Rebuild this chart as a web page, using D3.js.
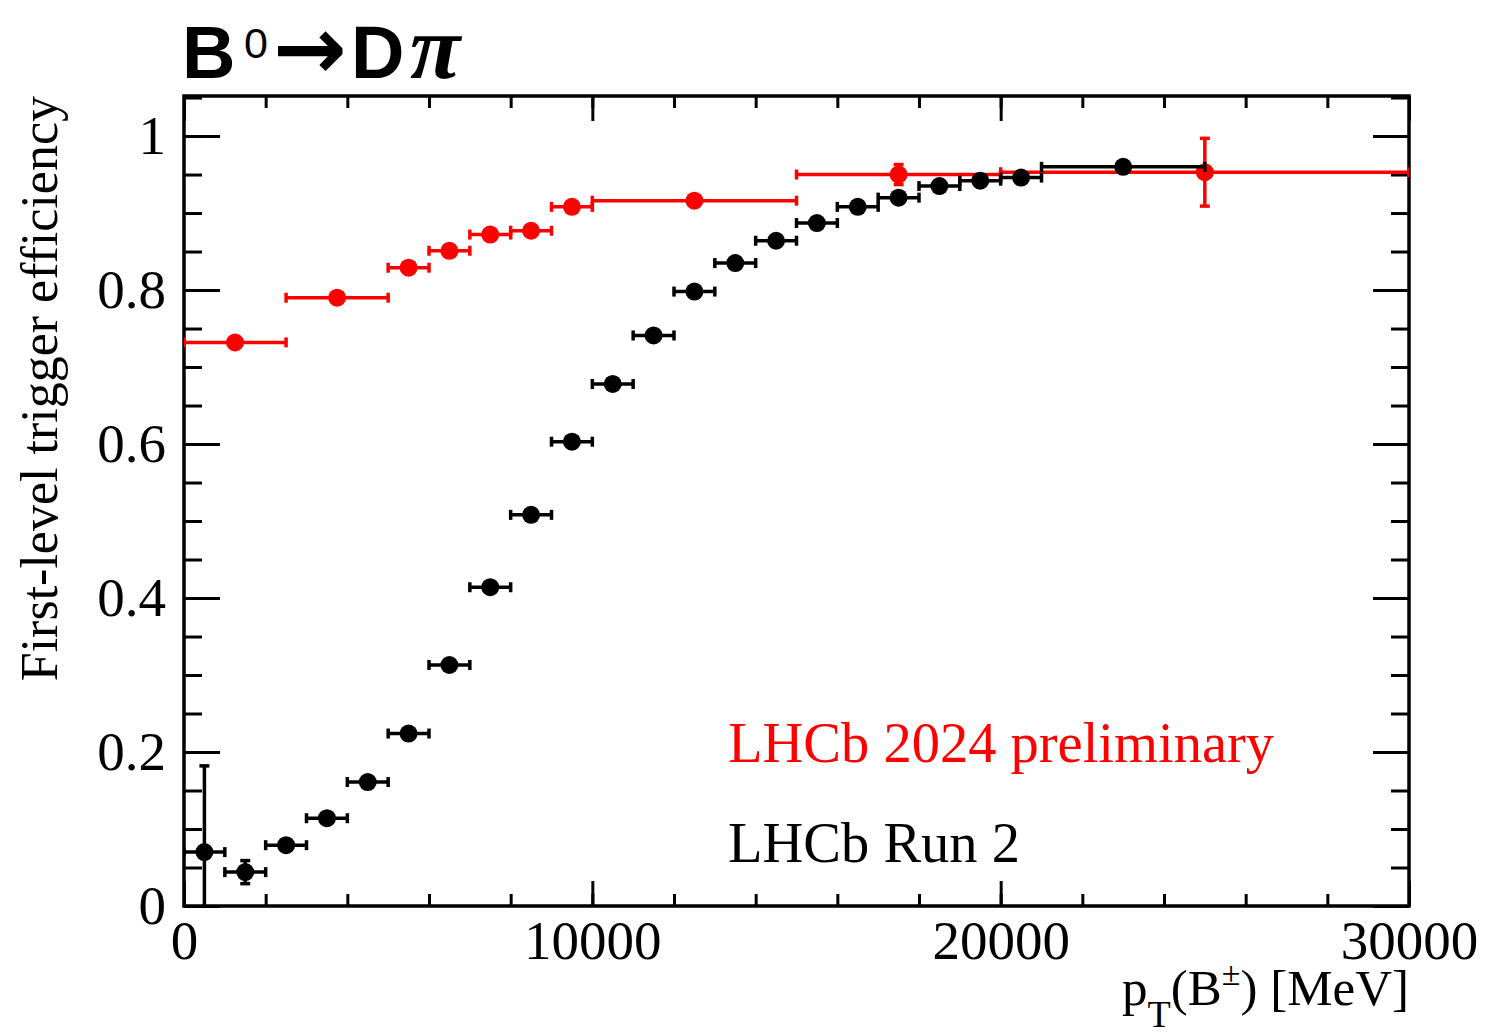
<!DOCTYPE html>
<html>
<head>
<meta charset="utf-8">
<script src="https://cdn.jsdelivr.net/npm/d3@7"></script>
<style>
  body { margin: 0; background: #fff; }
</style>
</head>
<body>
<div id="chart"></div>
<script>
// data
var blackX    = [500, 1500, 2500, 3500, 4500, 5500, 6500, 7500, 8500, 9500, 10500, 11500, 12500, 13500, 14500, 15500, 16500, 17500, 18500, 19500, 20500, 23000];
var blackXerr = [500, 500, 500, 500, 500, 500, 500, 500, 500, 500, 500, 500, 500, 500, 500, 500, 500, 500, 500, 500, 500, 2000];
var blackEff  = [0.070, 0.044, 0.079, 0.114, 0.161, 0.224, 0.313, 0.414, 0.508, 0.603, 0.678, 0.741, 0.798, 0.835, 0.864, 0.887, 0.908, 0.920, 0.935, 0.942, 0.946, 0.960];
var blackYerr = [0.112, 0.015, 0.006, 0.006, 0.006, 0.006, 0.006, 0.006, 0.006, 0.005, 0.005, 0.005, 0.005, 0.005, 0.005, 0.004, 0.004, 0.004, 0.004, 0.004, 0.004, 0.003];

var redX    = [1250, 3750, 5500, 6500, 7500, 8500, 9500, 12500, 17500, 25000];
var redXerr = [1250, 1250, 500, 500, 500, 500, 500, 2500, 2500, 5000];
var redEff  = [0.732, 0.790, 0.829, 0.851, 0.872, 0.877, 0.908, 0.916, 0.950, 0.953];
var redYerr = [0.004, 0.004, 0.004, 0.004, 0.005, 0.005, 0.005, 0.005, 0.013, 0.044];

var xMajor = [0, 10000, 20000, 30000];
var xMinor = d3.range(0, 30001, 2000);
var yMajor = [0, 0.2, 0.4, 0.6, 0.8, 1];
var yMinor = d3.range(0, 1.051, 0.05);

var svgWidth = 1486;
var svgHeight = 1035;

var margin = { top: 96, right: 77, bottom: 129, left: 184 };
var chartWidth  = svgWidth - margin.left - margin.right;
var chartHeight = svgHeight - margin.top - margin.bottom;

var serif = "Liberation Serif, Times New Roman, serif";

var svg = d3.select("#chart")
    .append("svg")
    .attr("width", svgWidth)
    .attr("height", svgHeight)
    .style("font-family", serif);

var chartGroup = svg.append("g")
    .attr("transform", `translate(${margin.left}, ${margin.top})`);

var xScale = d3.scaleLinear().domain([0, 30000]).range([0, chartWidth]);
var yScale = d3.scaleLinear().domain([0, 1.052]).range([chartHeight, 0]);

var labelSize = 55;

// axes: ROOT style, ticks inside on all four sides
function styleAxis(g) {
    g.select(".domain").remove();
    g.selectAll(".tick line").attr("stroke", "#000").attr("stroke-width", 3);
    g.selectAll(".tick text")
        .style("font-family", serif)
        .style("font-size", labelSize + "px")
        .attr("fill", "#000");
}

chartGroup.append("g")
    .attr("transform", `translate(0, ${chartHeight})`)
    .call(d3.axisBottom(xScale).tickValues(xMinor).tickSize(-12).tickFormat(""))
    .call(styleAxis);
chartGroup.append("g")
    .attr("transform", `translate(0, ${chartHeight})`)
    .call(d3.axisBottom(xScale).tickValues(xMajor).tickSize(-25).tickPadding(14).tickFormat(d3.format("d")))
    .call(styleAxis)
    .selectAll(".tick text").attr("dy", "0.71em");

chartGroup.append("g")
    .call(d3.axisTop(xScale).tickValues(xMinor).tickSize(-12).tickFormat(""))
    .call(styleAxis);
chartGroup.append("g")
    .call(d3.axisTop(xScale).tickValues(xMajor).tickSize(-25).tickFormat(""))
    .call(styleAxis);

chartGroup.append("g")
    .call(d3.axisLeft(yScale).tickValues(yMinor).tickSize(-18).tickFormat(""))
    .call(styleAxis);
chartGroup.append("g")
    .call(d3.axisLeft(yScale).tickValues(yMajor).tickSize(-36).tickPadding(18).tickFormat(d => d === 0 || d === 1 ? d3.format("d")(d) : d3.format(".1f")(d)))
    .call(styleAxis);

chartGroup.append("g")
    .attr("transform", `translate(${chartWidth}, 0)`)
    .call(d3.axisRight(yScale).tickValues(yMinor).tickSize(-18).tickFormat(""))
    .call(styleAxis);
chartGroup.append("g")
    .attr("transform", `translate(${chartWidth}, 0)`)
    .call(d3.axisRight(yScale).tickValues(yMajor).tickSize(-36).tickFormat(""))
    .call(styleAxis);

// frame
chartGroup.append("rect")
    .attr("width", chartWidth)
    .attr("height", chartHeight)
    .attr("fill", "none")
    .attr("stroke", "#000")
    .attr("stroke-width", 3.5);

// clip the points to the frame
svg.append("clipPath").attr("id", "frameClip")
    .append("rect").attr("width", chartWidth).attr("height", chartHeight);

var plotArea = chartGroup.append("g").attr("clip-path", "url(#frameClip)");

function drawSeries(xs, xerr, ys, yerr, color) {
    var data = xs.map((x, i) => ({ x: x, xe: xerr[i], y: ys[i], ye: yerr[i] }));
    var g = plotArea.append("g");
    var cap = 5;
    var lw = 3.5;

    var pts = g.selectAll("g.pt")
        .data(data)
        .enter()
        .append("g")
        .attr("class", "pt");

    // horizontal error + end caps
    pts.append("line")
        .attr("x1", d => xScale(d.x - d.xe))
        .attr("x2", d => xScale(d.x + d.xe))
        .attr("y1", d => yScale(d.y))
        .attr("y2", d => yScale(d.y))
        .attr("stroke", color).attr("stroke-width", lw);
    pts.append("line")
        .attr("x1", d => xScale(d.x - d.xe)).attr("x2", d => xScale(d.x - d.xe))
        .attr("y1", d => yScale(d.y) - cap).attr("y2", d => yScale(d.y) + cap)
        .attr("stroke", color).attr("stroke-width", lw);
    pts.append("line")
        .attr("x1", d => xScale(d.x + d.xe)).attr("x2", d => xScale(d.x + d.xe))
        .attr("y1", d => yScale(d.y) - cap).attr("y2", d => yScale(d.y) + cap)
        .attr("stroke", color).attr("stroke-width", lw);

    // vertical error + end caps
    pts.append("line")
        .attr("x1", d => xScale(d.x)).attr("x2", d => xScale(d.x))
        .attr("y1", d => yScale(d.y + d.ye))
        .attr("y2", d => yScale(d.y - d.ye))
        .attr("stroke", color).attr("stroke-width", lw);
    pts.append("line")
        .attr("x1", d => xScale(d.x) - cap).attr("x2", d => xScale(d.x) + cap)
        .attr("y1", d => yScale(d.y + d.ye)).attr("y2", d => yScale(d.y + d.ye))
        .attr("stroke", color).attr("stroke-width", lw);
    pts.append("line")
        .attr("x1", d => xScale(d.x) - cap).attr("x2", d => xScale(d.x) + cap)
        .attr("y1", d => yScale(d.y - d.ye)).attr("y2", d => yScale(d.y - d.ye))
        .attr("stroke", color).attr("stroke-width", lw);

    pts.append("circle")
        .attr("cx", d => xScale(d.x))
        .attr("cy", d => yScale(d.y))
        .attr("r", 9)
        .attr("fill", color);
}

drawSeries(redX, redXerr, redEff, redYerr, "#ff0000");
drawSeries(blackX, blackXerr, blackEff, blackYerr, "#000000");

// legend texts
chartGroup.append("text")
    .attr("x", 728 - margin.left)
    .attr("y", 762 - margin.top)
    .style("font-size", "56.5px")
    .attr("fill", "#ff0000")
    .text("LHCb 2024 preliminary");

chartGroup.append("text")
    .attr("x", 728 - margin.left)
    .attr("y", 862 - margin.top)
    .style("font-size", "56.5px")
    .attr("fill", "#000")
    .text("LHCb Run 2");

// y axis label
svg.append("text")
    .attr("transform", `translate(57, ${margin.top}) rotate(-90)`)
    .attr("text-anchor", "end")
    .style("font-size", "52px")
    .text("First-level trigger efficiency");

// x axis label
var xLab = svg.append("text")
    .attr("x", margin.left + chartWidth)
    .attr("y", 1005)
    .attr("text-anchor", "end")
    .style("font-size", "51px");
xLab.append("tspan").text("p");
xLab.append("tspan").style("font-size", "38px").attr("dy", 22).text("T");
xLab.append("tspan").attr("dy", -22).text("(B");
xLab.append("tspan").style("font-size", "34px").attr("dy", -20).text("±");
xLab.append("tspan").attr("dy", 20).text(") [MeV]");

// title
var title = svg.append("text")
    .attr("y", 78)
    .style("font-family", "Liberation Sans, Arial, sans-serif")
    .style("font-weight", "bold")
    .style("font-size", "74px");
title.append("tspan").attr("x", 182).text("B");
title.append("tspan").attr("x", 244).attr("y", 58)
    .style("font-size", "43px").style("font-weight", "normal").text("0");
title.append("tspan").attr("x", 273).attr("y", 79)
    .style("font-family", "DejaVu Sans").style("font-size", "88px").text("→");
title.append("tspan").attr("x", 351).attr("y", 78).text("D");
title.append("tspan").attr("x", 410)
    .style("font-family", serif).style("font-style", "italic").style("font-size", "92px").text("π");
</script>
</body>
</html>
